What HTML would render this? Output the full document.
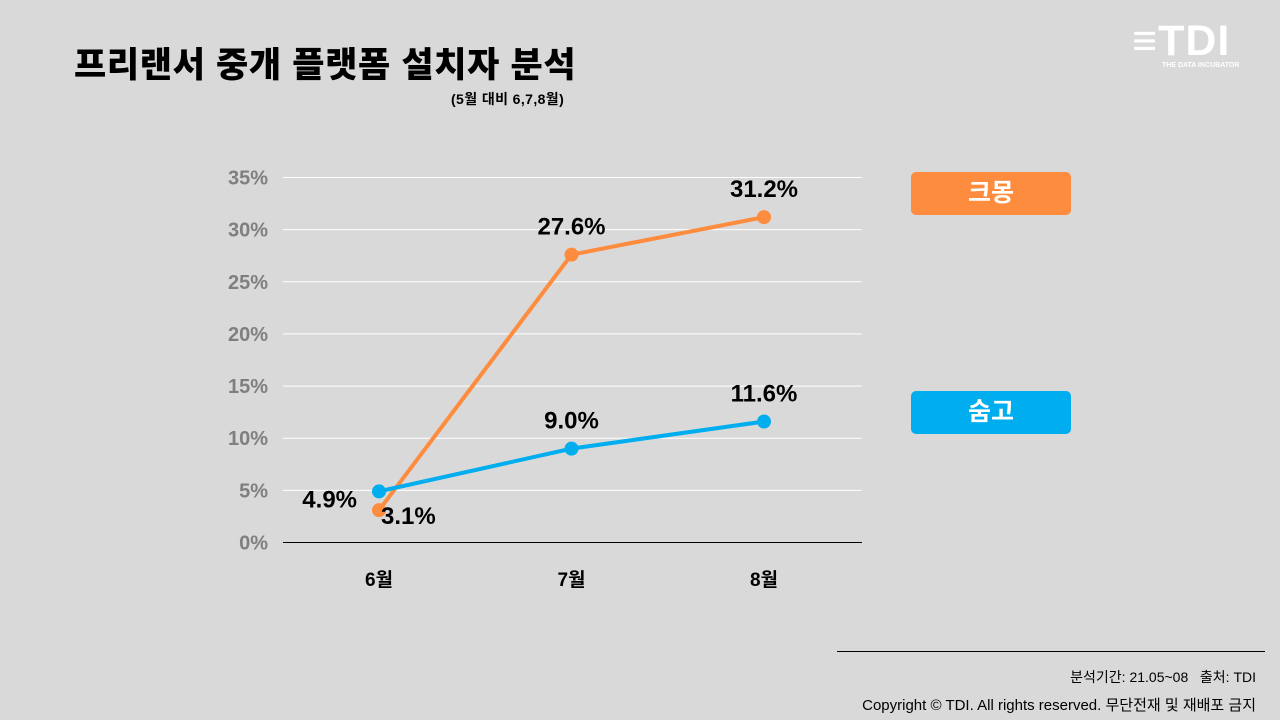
<!DOCTYPE html>
<html><head><meta charset="utf-8">
<style>
body{margin:0;width:1280px;height:720px;background:#d9d9d9;overflow:hidden;font-family:"Liberation Sans","Noto Sans CJK KR",sans-serif;position:relative}
.abs{position:absolute}
</style></head><body>
<div class="abs" style="left:74px;top:37px;font-size:35px;font-weight:900;color:#000;letter-spacing:0.7px">프리랜서 중개 플랫폼 설치자 분석</div>
<div class="abs" style="left:451px;top:89px;font-size:14px;font-weight:700;color:#000;letter-spacing:0.4px">(5월 대비 6,7,8월)</div>
<div class="abs" style="left:1132px;top:20px;width:120px;color:#fff">
 <div style="font-size:43px;font-weight:900;line-height:42px;letter-spacing:1px">≡TDI</div>
 <div style="font-size:7px;font-weight:700;margin-left:30px">THE DATA INCUBATOR</div>
</div>
<svg class="abs" style="left:0;top:0" width="1280" height="720">
<g id="grid"></g><g id="series"></g><g id="labels"></g>
</svg>
<div class="abs" style="left:911px;top:172px;width:160px;height:43px;background:#fd8c3e;border-radius:5px;color:#fff;font-size:25px;font-weight:700;text-align:center;line-height:43px">크몽</div>
<div class="abs" style="left:911px;top:391px;width:160px;height:43px;background:#00aeef;border-radius:5px;color:#fff;font-size:25px;font-weight:700;text-align:center;line-height:43px">숨고</div>
<div class="abs" style="left:837px;top:651px;width:428px;height:1px;background:#000"></div>
<div class="abs" style="right:24px;top:667px;font-size:14px;color:#000">분석기간: 21.05~08 &nbsp;&nbsp;출처: TDI</div>
<div class="abs" style="right:24px;top:694px;font-size:15px;color:#000">Copyright © TDI. All rights reserved. 무단전재 및 재배포 금지</div>
<script>
const categories=["6월","7월","8월"];
const kmong=[3.1,27.6,31.2];
const soomgo=[4.9,9.0,11.6];
const yTicks=[0,5,10,15,20,25,30,35];
const NS="http://www.w3.org/2000/svg";
const X=i=>379+i*192.5, Y=v=>542.5-v*(365/35);
function mk(tag,attrs,parent,txt){const e=document.createElementNS(NS,tag);for(const k in attrs)e.setAttribute(k,attrs[k]);if(txt!=null)e.textContent=txt;parent.appendChild(e);return e;}
const grid=document.getElementById('grid'),series=document.getElementById('series'),labels=document.getElementById('labels');
yTicks.forEach(t=>{
 const l=mk('line',{x1:283,x2:862,y1:Y(t),y2:Y(t),stroke:t===0?'#000':'#fff','stroke-width':1},grid);
 
 
 const tx=mk('text',{x:268,y:Y(t)+7,'text-anchor':'end','font-size':20,'font-weight':700,fill:'#7f7f7f','font-family':'Liberation Sans, sans-serif'},grid,t+'%');
 
 
});
categories.forEach((c,i)=>{
 const tx=mk('text',{x:X(i),y:586,'text-anchor':'middle','font-size':19,'font-weight':700,fill:'#000'},grid,c);
 
 
});
function draw(vals,color,name,lblOff){
 const p=mk('polyline',{points:vals.map((v,i)=>X(i)+','+Y(v)).join(' '),fill:'none',stroke:color,'stroke-width':4},series);
 
 
 vals.forEach((v,i)=>{
  const c=mk('circle',{cx:X(i),cy:Y(v),r:7,fill:color},series);
  
  
  const o=lblOff(i);
  const t=mk('text',{x:X(i)+o[0],y:Y(v)+o[1],'text-anchor':o[2],'font-size':24,'font-weight':700,fill:'#000'},labels,v.toFixed(1)+'%');
  
  
 });
}
draw(kmong,'#fd8c3e','kmong',i=>i===0?[2,14,'start']:[0,-20,'middle']);
draw(soomgo,'#00aeef','soomgo',i=>i===0?[-22,16,'end']:[0,-20,'middle']);
</script>
</body></html>
